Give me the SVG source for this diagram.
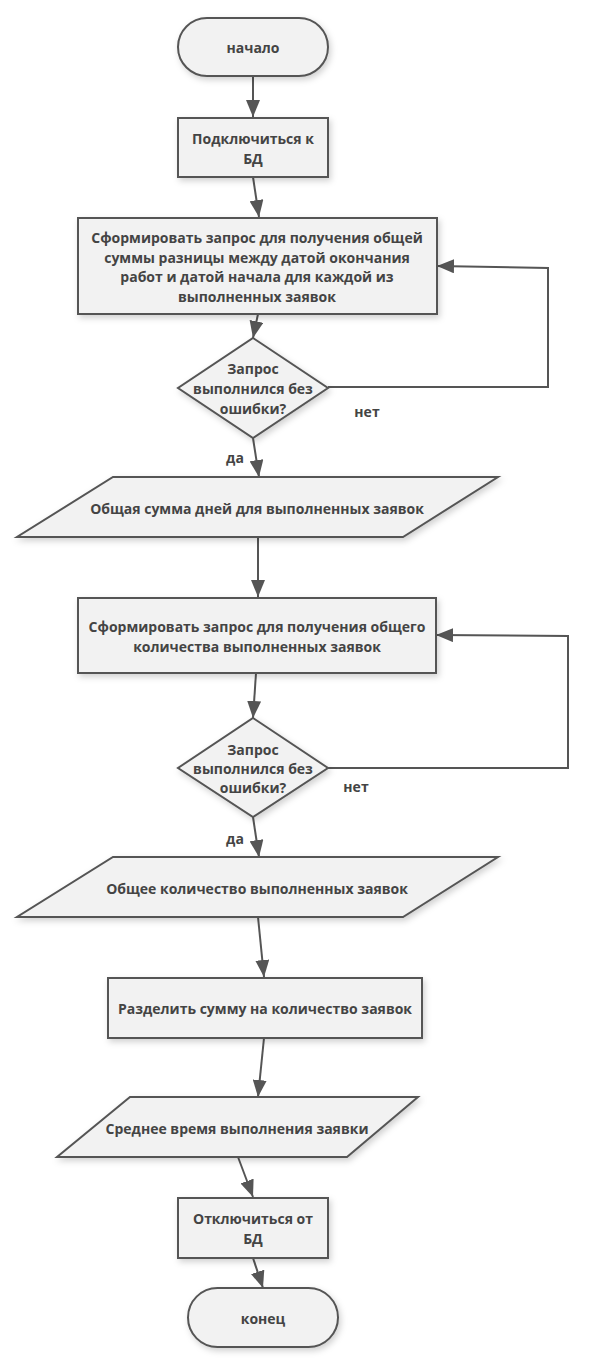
<svg xmlns="http://www.w3.org/2000/svg" width="598" height="1368" viewBox="0 0 598 1368">
<style>
.s{fill:#f2f2f2;stroke:#555;stroke-width:2;filter:url(#sh)}
.t{font-family:"Open Sans","Noto Sans",sans-serif;font-weight:bold;font-size:14px;fill:#444;text-anchor:middle;dominant-baseline:central}
.c{fill:none;stroke:#555;stroke-width:2}
</style>
<defs>
<filter id="sh" x="-10%" y="-10%" width="125%" height="130%">
<feDropShadow dx="2" dy="3" stdDeviation="3" flood-color="#000" flood-opacity="0.18"/>
</filter>
<marker id="a" markerUnits="userSpaceOnUse" markerWidth="17" markerHeight="14" viewBox="0 0 17 14" refX="17" refY="7" orient="auto">
<path d="M0,0 L17,7 L0,14 Z" fill="#555"/>
</marker>
</defs>
<g id="connectors">
<line class="c" x1="253" y1="77" x2="253" y2="117" marker-end="url(#a)"/>
<line class="c" x1="253" y1="177" x2="259" y2="217" marker-end="url(#a)"/>
<line class="c" x1="258" y1="314" x2="253" y2="338" marker-end="url(#a)"/>
<polyline class="c" points="328,387 548,387 548,268 437,266" marker-end="url(#a)"/>
<line class="c" x1="253" y1="438" x2="259" y2="477" marker-end="url(#a)"/>
<line class="c" x1="258" y1="537" x2="258" y2="597" marker-end="url(#a)"/>
<line class="c" x1="256" y1="673" x2="253" y2="718" marker-end="url(#a)"/>
<polyline class="c" points="328,768 568,768 568,636 436,635" marker-end="url(#a)"/>
<line class="c" x1="253" y1="817" x2="259" y2="857" marker-end="url(#a)"/>
<line class="c" x1="258" y1="917" x2="264" y2="977" marker-end="url(#a)"/>
<line class="c" x1="264" y1="1038" x2="258" y2="1097" marker-end="url(#a)"/>
<line class="c" x1="238" y1="1157" x2="253" y2="1197" marker-end="url(#a)"/>
<line class="c" x1="253" y1="1258" x2="263" y2="1288" marker-end="url(#a)"/>
<text class="t" x="367" y="411">нет</text>
<text class="t" x="235" y="457">да</text>
<text class="t" x="356" y="786">нет</text>
<text class="t" x="235" y="838">да</text>
</g>
<g id="start">
<rect class="s" x="178" y="18" width="150" height="58" rx="29"/>
<text class="t" x="253" y="47">начало</text>
</g>
<g id="connect">
<rect class="s" x="178" y="118" width="150" height="59"/>
<text class="t" x="253" y="138">Подключиться к</text>
<text class="t" x="253" y="158">БД</text>
</g>
<g id="query1">
<rect class="s" x="78" y="218" width="359" height="96"/>
<text class="t" x="257" y="237">Сформировать запрос для получения общей</text>
<text class="t" x="257" y="257">суммы разницы между датой окончания</text>
<text class="t" x="257" y="276">работ и датой начала для каждой из</text>
<text class="t" x="257" y="296">выполненных заявок</text>
</g>
<g id="check1">
<polygon class="s" points="253,338 328,388 253,438 178,388"/>
<text class="t" x="253" y="368">Запрос</text>
<text class="t" x="253" y="388">выполнился без</text>
<text class="t" x="253" y="408">ошибки?</text>
</g>
<g id="sum">
<polygon class="s" points="113,477 498,477 403,537 17,537"/>
<text class="t" x="257" y="508">Общая сумма дней для выполненных заявок</text>
</g>
<g id="query2">
<rect class="s" x="78" y="598" width="358" height="75"/>
<text class="t" x="257" y="626">Сформировать запрос для получения общего</text>
<text class="t" x="257" y="646">количества выполненных заявок</text>
</g>
<g id="check2">
<polygon class="s" points="253,718 328,768 253,817 178,768"/>
<text class="t" x="253" y="749">Запрос</text>
<text class="t" x="253" y="768">выполнился без</text>
<text class="t" x="253" y="787">ошибки?</text>
</g>
<g id="count">
<polygon class="s" points="113,857 498,857 403,917 17,917"/>
<text class="t" x="257" y="888">Общее количество выполненных заявок</text>
</g>
<g id="divide">
<rect class="s" x="108" y="978" width="314" height="60"/>
<text class="t" x="265" y="1008">Разделить сумму на количество заявок</text>
</g>
<g id="avg">
<polygon class="s" points="130,1097 418,1097 347,1157 57,1157"/>
<text class="t" x="237" y="1128">Среднее время выполнения заявки</text>
</g>
<g id="disconnect">
<rect class="s" x="178" y="1198" width="150" height="60"/>
<text class="t" x="253" y="1218">Отключиться от</text>
<text class="t" x="253" y="1238">БД</text>
</g>
<g id="end">
<rect class="s" x="188" y="1288" width="150" height="59" rx="29.5"/>
<text class="t" x="263" y="1318">конец</text>
</g>
</svg>
